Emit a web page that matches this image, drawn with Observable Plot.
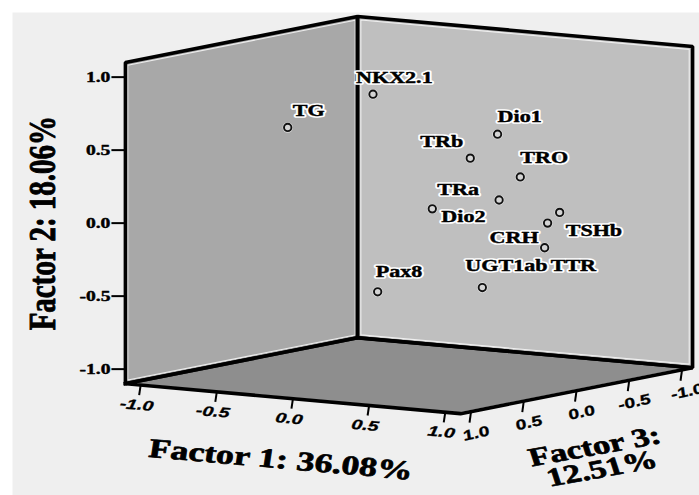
<!DOCTYPE html>
<html><head><meta charset="utf-8">
<script src="https://cdn.jsdelivr.net/npm/d3@7"></script>
<script src="https://cdn.jsdelivr.net/npm/@observablehq/plot@0.6"></script>
<style>body{margin:0;background:#fff;}</style>
</head><body><div id="chart"></div>
<script>
// ---------- data ----------
const genes   = ["TG","NKX2.1","Dio1","TRb","TRO","TRa","Dio2","TSHb","CRH","TTR","Pax8","UGT1ab"];
const factor1 = [-0.45, 0.11, 0.72, 0.61, 0.80, 0.73, 0.43, 0.92, 0.91, 0.96, 0.21, 0.62];
const factor2 = [ 0.63, 0.91, 0.65, 0.49, 0.35, 0.20, 0.14, 0.09, 0.03,-0.12,-0.42,-0.41];
const factor3 = [ 0.50, 0.50, 0.20, 0.30, 0.10, 0.20, 0.40,-0.10, 0.00, 0.10, 0.60, 0.20];
const tickValues = [-1.0, -0.5, 0.0, 0.5, 1.0];
const tickLabels = ["-1.0", "-0.5", "0.0", "0.5", "1.0"];
const axisTitle1 = "Factor 1: 36.08%";
const axisTitle2 = "Factor 2: 18.06%";
const axisTitle3 = "Factor 3:\n12.51%";
const boxExtent = [-1.1, 1.1];

// ---------- label placement (style: dx, dy, anchor) ----------
const labelPlacement = [
  [5,-17,"start"], [-17,-17,"start"], [0,-18,"start"], [-7,-17,"end"],
  [0,-19,"start"], [-20,-10,"end"], [9,8,"start"], [6,18,"start"],
  [-9,14,"end"], [6,18,"start"], [-2,-20,"start"], [-17,-22,"start"]
];

// ---------- camera (oblique projection) ----------
const W = 699, H = 495;
const cam = {ox: 408.5, oy: 214.6, xx: 152.3, xy: 13.6, zx: -105.5, zy: 20.9, yy: 146};
const U = (x, y, z) => cam.xx * x + cam.zx * z;
const V = (x, y, z) => cam.yy * y - cam.xy * x - cam.zy * z;

const serif = '"Liberation Serif","Times New Roman",serif';
const sans = '"Liberation Sans",Arial,sans-serif';

const [lo, hi] = boxExtent;
function face(corners, fixedAxis, shrink = 0) {
  const pts = corners.map(p => p.map((c, k) => k === fixedAxis ? c : c - Math.sign(c) * shrink));
  pts.push(pts[0]);
  return pts.map(([x, y, z]) => ({u: U(x, y, z), v: V(x, y, z)}));
}
const leftC  = [[lo,lo,hi],[lo,hi,hi],[lo,hi,lo],[lo,lo,lo]];
const rightC = [[lo,lo,lo],[lo,hi,lo],[hi,hi,lo],[hi,lo,lo]];
const floorC = [[lo,lo,hi],[hi,lo,hi],[hi,lo,lo],[lo,lo,lo]];

const points = genes.map((g, i) => ({
  name: g, u: U(factor1[i], factor2[i], factor3[i]), v: V(factor1[i], factor2[i], factor3[i])
}));

const yTicks = tickValues.map((t, i) => ({label: tickLabels[i], u: U(lo, t, hi), v: V(lo, t, hi)}));
const xTicks = tickValues.map((t, i) => ({label: tickLabels[i], u: U(t, lo, hi), v: V(t, lo, hi)}));
const zTicks = tickValues.map((t, i) => ({label: tickLabels[i], u: U(hi, lo, t), v: V(hi, lo, t)}));

const polyMarks = (C, axis, fill) => [
  Plot.line(face(C, axis), {x: "u", y: "v", fill, stroke: "none"}),
  Plot.line(face(C, axis, 0.022), {x: "u", y: "v", stroke: "#f4f4f4", strokeWidth: 1.1, strokeOpacity: 0.9, strokeLinejoin: "miter"})
];
const edgeMarks = (C, axis) =>
  Plot.line(face(C, axis), {x: "u", y: "v", stroke: "#000", strokeWidth: 3.6, strokeLinejoin: "miter", strokeLinecap: "square"});

const labelStyle = (p, i) => ({
  x: "u", y: "v", text: "name",
  dx: labelPlacement[i][0], dy: labelPlacement[i][1], textAnchor: labelPlacement[i][2],
  lineAnchor: "middle", fontFamily: serif, fontWeight: "bold", fontSize: 17, ariaDescription: "sx:1.3"
});
const labelHalo = points.map((p, i) => Plot.text([p], {...labelStyle(p, i), fill: "white", stroke: "white", strokeWidth: 3.6}));
const labelInk = points.map((p, i) => Plot.text([p], {...labelStyle(p, i), fill: "#000", stroke: "#000", strokeWidth: 0.45}));

const bold = {fill: "#000", stroke: "#000", strokeWidth: 0.5};

const plot = Plot.plot({
  width: W, height: H, margin: 0,
  x: {domain: [-cam.ox, W - cam.ox], axis: null},
  y: {domain: [cam.oy - H, cam.oy], axis: null},
  style: {background: "white"},
  marks: [
    Plot.frame({fill: "#efefef", stroke: "none", insetLeft: 12, insetTop: 12}),
    ...polyMarks(leftC, 0, "#a8a8a8"),
    ...polyMarks(rightC, 2, "#bfbfbf"),
    ...polyMarks(floorC, 1, "#8e8e8e"),
    edgeMarks(leftC, 0), edgeMarks(rightC, 2), edgeMarks(floorC, 1),
    // Factor 2 ticks
    Plot.link(yTicks, {x1: "u", y1: "v", x2: d => d.u - 14, y2: "v", stroke: "#000", strokeWidth: 2}),
    Plot.text(yTicks, {x: "u", y: "v", text: "label", dx: -15, textAnchor: "end", lineAnchor: "middle",
      fontFamily: serif, fontWeight: "bold", fontSize: 14, ...bold, strokeWidth: 0.4, ariaDescription: "sx:1.4"}),
    // Factor 1 ticks
    Plot.link(xTicks, {x1: "u", y1: "v", x2: d => d.u - 1.5, y2: d => d.v - 10, stroke: "#000", strokeWidth: 2}),
    Plot.text(xTicks, {x: "u", y: "v", text: "label", dx: -4, dy: 20, rotate: 7, textAnchor: "middle", lineAnchor: "middle",
      fontFamily: sans, fontWeight: "bold", fontStyle: "italic", fontSize: 14, ...bold, strokeWidth: 0.3, ariaDescription: "sx:1.4"}),
    // Factor 3 ticks
    Plot.link(zTicks, {x1: "u", y1: "v", x2: d => d.u - 1.5, y2: d => d.v - 11, stroke: "#000", strokeWidth: 2}),
    Plot.text(zTicks, {x: "u", y: "v", text: "label", dx: 5, dy: 22, rotate: -17, textAnchor: "middle", lineAnchor: "middle",
      fontFamily: sans, fontWeight: "bold", fontStyle: "italic", fontSize: 14, ...bold, strokeWidth: 0.3, ariaDescription: "sx:1.4"}),
    // axis titles
    Plot.text([{u: U(lo, 0, hi), v: V(lo, 0, hi)}], {x: "u", y: "v", text: () => axisTitle2, dx: -82, rotate: -90,
      textAnchor: "middle", lineAnchor: "middle", fontFamily: serif, fontWeight: "bold", fontSize: 29, ...bold, strokeWidth: 0.7, ariaDescription: "sx:1.28"}),
    Plot.text([{u: U(0, lo, hi), v: V(0, lo, hi)}], {x: "u", y: "v", text: () => axisTitle1, dx: -12, dy: 61, rotate: 6.6,
      textAnchor: "middle", lineAnchor: "middle", fontFamily: serif, fontWeight: "bold", fontSize: 27, ...bold, strokeWidth: 0.7, ariaDescription: "sx:1.33"}),
    Plot.text([{u: U(hi, lo, 0), v: V(hi, lo, 0)}], {x: "u", y: "v", text: () => axisTitle3, dx: 22, dy: 68, rotate: -13.6,
      textAnchor: "middle", lineAnchor: "middle", lineHeight: 0.88, fontFamily: serif, fontWeight: "bold", fontSize: 26, ...bold, strokeWidth: 0.7, ariaDescription: "sx:1.33"}),
    // points
    Plot.dot(points, {x: "u", y: "v", r: 5.2, fill: "white", fillOpacity: 0.6, stroke: "none"}),
    Plot.dot(points, {x: "u", y: "v", r: 3.7, stroke: "#111", strokeWidth: 1.9, fill: "#d4d4d4"}),
    ...labelHalo,
    ...labelInk
  ]
});

// horizontal stretch of text (the reference is rendered wide)
plot.querySelectorAll("g[aria-description]").forEach(g => {
  const m = /^sx:([\d.]+)$/.exec(g.getAttribute("aria-description"));
  if (!m) return;
  const s = m[1];
  g.querySelectorAll("text").forEach(t => {
    const tr = t.getAttribute("transform");
    if (tr && /translate\(/.test(tr)) {
      t.setAttribute("transform", tr.replace(/(translate\([^)]*\))/, `$1 scale(${s},1)`));
    } else {
      const x = +t.getAttribute("x") || 0, y = +t.getAttribute("y") || 0;
      t.removeAttribute("x"); t.removeAttribute("y");
      t.setAttribute("transform", `translate(${x},${y}) scale(${s},1)` + (tr ? " " + tr : ""));
    }
  });
});
document.getElementById("chart").appendChild(plot);
</script>
</body></html>
